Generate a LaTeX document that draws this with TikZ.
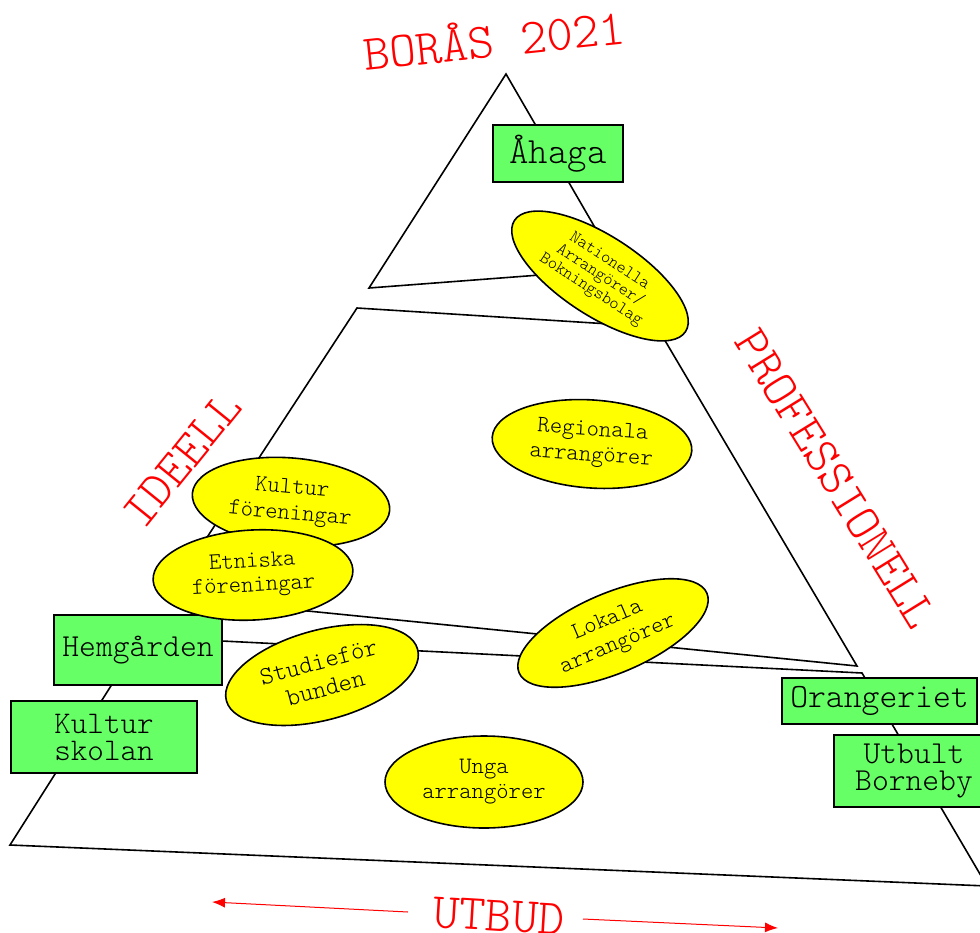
\documentclass[tikz,border=0pt]{standalone}
\usepackage{fontspec}
\newfontfamily\lmlt{lmmonolt10-regular.otf}
\usetikzlibrary{shapes.geometric,arrows.meta}
\definecolor{boxgreen}{HTML}{66FF66}
\definecolor{ellyellow}{HTML}{FFFF00}
\definecolor{lblred}{HTML}{FF0000}
\newcommand{\fs}[2]{\lmlt\fontsize{#1}{#2}\selectfont}
\tikzset{
  edge/.style={draw=black, line width=1.6pt, line join=miter},
  redlbl/.style={text=lblred, font=\fs{50}{50}, anchor=base, inner sep=0pt},
  gbox/.style={draw=black, line width=1.6pt, fill=boxgreen, inner sep=0pt, align=center},
  yell/.style={ellipse, draw=black, line width=1.6pt, fill=ellyellow, inner sep=0pt, align=center},
  redarrow/.style={draw=lblred, line width=1pt, -{Latex[length=13pt,width=10pt]}}
}
\begin{document}
\begin{tikzpicture}[x=1pt,y=-1pt]
\useasboundingbox (0,0) rectangle (980,932);
% pyramid pieces
\draw[edge] (506,74) -- (369,288) -- (619,269) -- cycle;
\draw[edge] (357,308) -- (168,597) -- (857,666) -- (657,327) -- cycle;
\draw[edge] (142,637) -- (10,845) -- (987,886) -- (862,673) -- cycle;

% red labels
\node[redlbl, rotate=6] (title) at (496,57) {BORÅS 2021};
\node[redlbl, rotate=51] (ideell) at (194,469) {IDEELL};
\node[redlbl, rotate=-58.3] (prof) at (823,487) {PROFESSIONELL};
\node[redlbl, rotate=-3.5] (utbud) at (498,931) {UTBUD};
\coordinate (uL0) at (408,912);
\coordinate (uL1) at (212,902);
\coordinate (uR0) at (583,919);
\coordinate (uR1) at (778,928);
\draw[redarrow] (uL0) -- (uL1);
\draw[redarrow] (uR0) -- (uR1);

% green boxes
\node[gbox, minimum width=130pt, minimum height=57pt, font=\fs{37}{37}] (ahaga) at (558,153.5) {Åhaga};
\node[gbox, minimum width=168pt, minimum height=70pt, font=\fs{32}{32}] (hem) at (138,650) {Hemgården};
\node[gbox, minimum width=186pt, minimum height=72pt, font=\fs{31.5}{27}] (kskol) at (104,737) {Kultur\\skolan};
\node[gbox, minimum width=195pt, minimum height=46pt, font=\fs{34}{34}] (orang) at (879.5,701) {Orangeriet};
\node[gbox, minimum width=160pt, minimum height=72pt, font=\fs{32}{27}] (utbult) at (914,771) {Utbult\\Borneby};

% yellow ellipses
\node[yell, rotate=-33, minimum width=204pt, minimum height=80pt, font=\fs{17.5}{17}] (nat) at (600,276) {Nationella\\Arrangörer/\\Bokningsbolag};
\node[yell, rotate=-4, minimum width=200pt, minimum height=88pt, font=\fs{23.5}{25.5}] (reg) at (592,444) {Regionala\\arrangörer};
\node[yell, rotate=-5, minimum width=198pt, minimum height=88pt, font=\fs{23.5}{26}] (kfor) at (291,502) {Kultur\\föreningar};
\node[yell, rotate=3, minimum width=200pt, minimum height=90pt, font=\fs{23.5}{24}] (etn) at (253,575) {Etniska\\föreningar};
\node[yell, rotate=15, minimum width=198pt, minimum height=90pt, font=\fs{25.5}{27}] (stud) at (322,675) {Studieför\\bunden};
\node[yell, rotate=23, minimum width=204pt, minimum height=80pt, font=\fs{23.5}{26}] (lok) at (613,633) {Lokala\\arrangörer};
\node[yell, minimum width=198pt, minimum height=92pt, font=\fs{23.5}{25}] (unga) at (484,782) {Unga\\arrangörer};
\end{tikzpicture}
\end{document}
